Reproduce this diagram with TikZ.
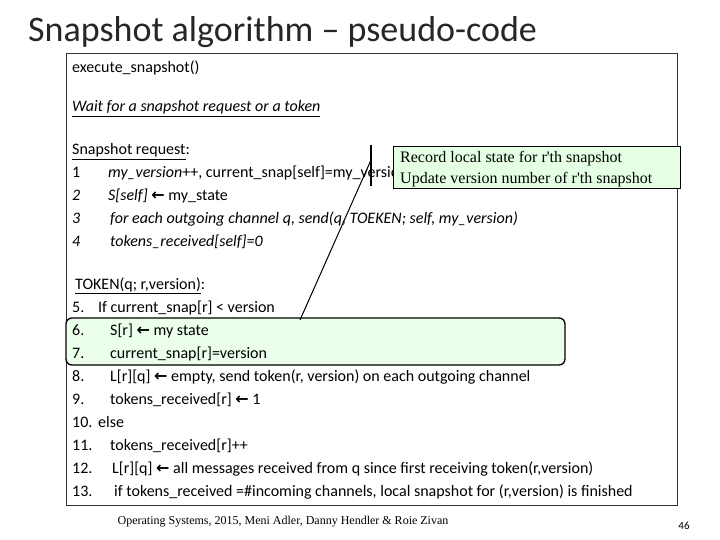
\documentclass[tikz,border=0pt]{standalone}
\usepackage{fontspec}
\setmainfont{Carlito}
\newfontfamily\serifx{Liberation Serif}
\newfontfamily\arrowf{DejaVu Sans}
\newcommand{\la}{{\arrowf\bfseries ←}}
\begin{document}
\begin{tikzpicture}[x=1pt,y=-1pt,
  ln/.style={anchor=base west,inner sep=0pt,font=\fontsize{16}{18}\selectfont},
  num/.style={anchor=base west,inner sep=0pt,font=\fontsize{16}{18}\selectfont}]
\useasboundingbox (0,0) rectangle (720,540);
\node[anchor=base west,inner sep=0pt,font=\fontsize{36}{40}\selectfont,text=black!85] (title) at (28,42) {Snapshot algorithm -- pseudo-code};
\draw[black!80,line width=0.7pt] (66,53) rectangle (677,505);
\draw[rounded corners=6pt,fill=green!8,line width=1.3pt] (66,318) rectangle (565,365);
\node[ln] (l0) at (72,73) {execute\_snapshot()};
\node[ln] (lw) at (72,112) {\underline{\itshape Wait for a snapshot request or a token}};
\node[ln] (ls) at (72,155) {\underline{Snapshot request}:};
\node[num] (n1) at (72,178) {1};
\node[ln] (t1) at (108,178) {\itshape my\_version\upshape ++, current\_snap[self]=my\_version};
\node[num] (n2) at (72,201) {\itshape 2};
\node[ln] (t2) at (108,201) {\itshape S[self] \upshape\la{} my\_state};
\node[num] (n3) at (72,224) {\itshape 3};
\node[ln] (t3) at (110,224) {\itshape for each outgoing channel q, send(q, TOEKEN; self, my\_version)};
\node[num] (n4) at (72,247) {\itshape 4};
\node[ln] (t4) at (110,247) {\itshape tokens\_received[self]=0};
\node[ln] (lt) at (75,289) {\underline{TOKEN(q; r,version)}:};
\node[num] (n5) at (72,312) {5.};
\node[ln] (t5) at (98,312) {If current\_snap[r] < version};
\node[num] (n6) at (72,335) {6.};
\node[ln] (t6) at (110,335) {S[r] \la{} my state};
\node[num] (n7) at (72,358) {7.};
\node[ln] (t7) at (110,358) {current\_snap[r]=version};
\node[num] (n8) at (72,381) {8.};
\node[ln] (t8) at (110,381) {L[r][q] \la{} empty, send token(r, version) on each outgoing channel};
\node[num] (n9) at (72,404) {9.};
\node[ln] (t9) at (110,404) {tokens\_received[r] \la{} 1};
\node[num] (n10) at (72,427) {10.};
\node[ln] (t10) at (98,427) {else};
\node[num] (n11) at (72,450) {11.};
\node[ln] (t11) at (110,450) {tokens\_received[r]++};
\node[num] (n12) at (72,473) {12.};
\node[ln] (t12) at (112,473) {L[r][q] \la{} all messages received from q since first receiving token(r,version)};
\node[num] (n13) at (72,496) {13.};
\node[ln] (t13) at (114,496) {if tokens\_received =\#incoming channels, local snapshot for (r,version) is finished};
% callout
\coordinate (vt) at (371,145);
\coordinate (vb) at (371,186);
\coordinate (dt) at (371,160);
\coordinate (db) at (300,320);
\draw[line width=1.3pt] (vt) -- (vb);
\draw[line width=1pt] (dt) -- (db);
\node[draw,line width=1.3pt,fill=green!10,anchor=north west,minimum width=287pt,minimum height=42pt,inner sep=0pt] (call) at (393,146) {};
\node[anchor=base west,inner sep=0pt,font=\serifx\fontsize{16}{18}\selectfont] (c1) at (400,163) {Record local state for r'th snapshot};
\node[anchor=base west,inner sep=0pt,font=\serifx\fontsize{16}{18}\selectfont] (c2) at (400,184) {Update version number of r'th snapshot};
\node[font=\serifx\fontsize{12}{14}\selectfont,inner sep=0pt] (foot) at (283,522) {Operating Systems, 2015, Meni Adler, Danny Hendler \& Roie Zivan};
\node[font=\fontsize{11}{12}\selectfont,inner sep=0pt] (pg) at (684,526) {46};
\end{tikzpicture}
\end{document}
